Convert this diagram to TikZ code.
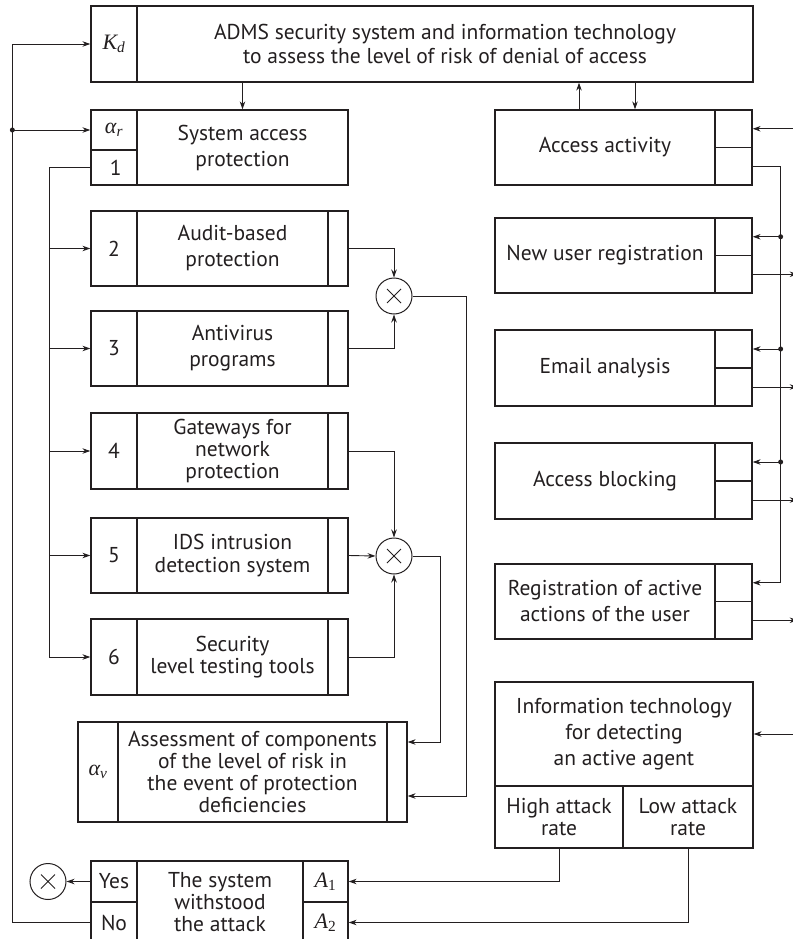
\documentclass[tikz,border=0pt]{standalone}
\usepackage{fontspec}
\setmainfont{PT Sans}
\newfontfamily\tms{Liberation Serif}
\usetikzlibrary{arrows.meta,calc}
\definecolor{ink}{HTML}{231F20}
\newcommand\mkcell[6]{\node[cell, minimum width={#4-#2}, minimum height={#5-#3}] (#1) at ({(#2+#4)/2},{(#3+#5)/2}) {#6};}
\newcommand\symb[2]{{\tms\itshape\fontsize{22}{22}\selectfont #1\textsubscript{#2}}}
\begin{document}
\begin{tikzpicture}[x=1pt,y=-1pt,
 cell/.style={draw=ink, line width=1.3pt, inner sep=0pt, align=center, font=\fontsize{21.5}{22}\selectfont, text=ink},
 conn/.style={draw=ink, line width=0.9pt},
 arr/.style={conn, -{Stealth[length=8pt,width=5.5pt]}},
 mult/.style={circle, draw=ink, line width=1pt, minimum size=36pt, inner sep=0pt,
   path picture={\draw[ink,line width=0.9pt]
     ([shift={(-7pt,-7pt)}]path picture bounding box.center) -- ([shift={(7pt,7pt)}]path picture bounding box.center)
     ([shift={(-7pt,7pt)}]path picture bounding box.center) -- ([shift={(7pt,-7pt)}]path picture bounding box.center);}},
 dot/.style={circle, fill=ink, inner sep=0pt, minimum size=5pt}]
\useasboundingbox (0,0) rectangle (792,939);
% top box
\mkcell{kd}{91}{6}{137}{82}{\symb{K}{d}}
\mkcell{top}{137}{6}{753}{82}{ADMS security system and information technology\\[2pt]to assess the level of risk of denial of access}
% system access
\mkcell{ar}{91}{110}{137}{150}{\symb{α}{r}}
\mkcell{one}{91}{150}{137}{185}{\,1}
\mkcell{sap}{137}{110}{348}{185}{System access\\[4pt]protection}
% boxes 2-6
\mkcell{n2}{91}{211}{137}{286}{2}
\mkcell{b2}{137}{211}{328}{286}{Audit-based\\[4pt]protection}
\mkcell{r2}{328}{211}{348}{286}{}
\mkcell{n3}{91}{311}{137}{386}{3}
\mkcell{b3}{137}{311}{328}{386}{Antivirus\\[4pt]programs}
\mkcell{r3}{328}{311}{348}{386}{}
\mkcell{n4}{91}{413}{137}{489}{4}
\mkcell{b4}{137}{413}{328}{489}{Gateways for\\network\\protection}
\mkcell{r4}{328}{413}{348}{489}{}
\mkcell{n5}{91}{518}{137}{593}{5}
\mkcell{b5}{137}{518}{328}{593}{IDS intrusion\\[1pt]detection system}
\mkcell{r5}{328}{518}{348}{593}{}
\mkcell{n6}{91}{619}{137}{695}{6}
\mkcell{b6}{137}{619}{328}{695}{Security\\level testing tools}
\mkcell{r6}{328}{619}{348}{695}{}
% assessment
\mkcell{aL}{78}{722}{118}{822}{\symb{α}{ν}}
\mkcell{aM}{118}{722}{387}{822}{Assessment of components\\of the level of risk in\\the event of protection\\deficiencies}
\mkcell{aR}{387}{722}{407}{822}{}
% bottom box
\mkcell{yes}{91}{861}{137}{902}{Yes}
\mkcell{no}{91}{902}{137}{943}{No}
\mkcell{sys}{137}{861}{303}{943}{The system\\withstood\\the attack}
\mkcell{aone}{303}{861}{348}{902}{\symb{A}{\upshape 1}}
\mkcell{atwo}{303}{902}{348}{943}{\symb{A}{\upshape 2}}
% info technology
\mkcell{info}{495}{682}{753}{786}{Information technology\\[4pt]for detecting\\[4pt]an active agent}
\mkcell{high}{495}{786}{623}{848}{High attack\\rate}
\mkcell{low}{623}{786}{753}{848}{Low attack\\rate}
% right column
\mkcell{aa}{495}{110}{715}{185}{Access activity}
\mkcell{aaU}{715}{110}{752}{147.5}{}
\mkcell{aaD}{715}{147.5}{752}{185}{}
\mkcell{nur}{495}{218}{715}{293}{New user registration}
\mkcell{nurU}{715}{218}{752}{255.5}{}
\mkcell{nurD}{715}{255.5}{752}{293}{}
\mkcell{ea}{495}{330}{715}{406}{Email analysis}
\mkcell{eaU}{715}{330}{752}{368}{}
\mkcell{eaD}{715}{368}{752}{406}{}
\mkcell{ab}{495}{443}{715}{519}{Access blocking}
\mkcell{abU}{715}{443}{752}{481}{}
\mkcell{abD}{715}{481}{752}{519}{}
\mkcell{ra}{495}{564}{715}{639}{Registration of active\\[4pt]actions of the user}
\mkcell{raU}{715}{564}{752}{601.5}{}
\mkcell{raD}{715}{601.5}{752}{639}{}
% multipliers
\node[mult] (m1) at (394,296) {};
\node[mult] (m2) at (394,556) {};
\node[mult] (m3) at (48,881.5) {};
% connectors
\draw[arr] (sap.north |- top.south) -- (sap.north);
\draw[arr] ([xshift=-26pt]aa.north) -- ([xshift=-26pt]aa.north |- top.south);
\draw[arr] ([xshift=30pt]aa.north |- top.south) -- ([xshift=30pt]aa.north);
% left bus
\draw[arr] (no.west) -- ++(-78,0) coordinate (lb) |- (kd.west);
\draw[arr] (lb |- ar.west) -- (ar.west);
\node[dot] (d0) at (lb |- ar.west) {};
% second bus
\draw[arr] (one.west) -- ++(-41,0) coordinate (sb) |- (n6.west);
\foreach \k in {2,3,4,5} \draw[arr] (sb |- n\k.west) -- (n\k.west);
% to multipliers
\draw[arr] (r2.east) -| (m1.north);
\draw[arr] (r3.east) -| (m1.south);
\draw[arr] (r4.east) -| (m2.north);
\draw[arr] (r5.east) -- (m2.west);
\draw[arr] (r6.east) -| (m2.south);
\draw[arr] (m1.east) -- ++(54,0) |- ([yshift=-24pt]aR.east);
\draw[arr] (m2.east) -- ++(28,0) |- ([yshift=30pt]aR.east);
% right bus
\draw[arr] ([xshift=48pt]aaU.east) -- (aaU.east);
\draw[arr] (aaD.east) -- ++(28,0) coordinate (rb) |- (raU.east);
\foreach \k in {nur,ea,ab} {
  \draw[arr] (rb |- \k U.east) -- (\k U.east);
  \node[dot] at (rb |- \k U.east) {};
  \draw[arr] (\k D.east) -- ++(45,0);
}
\draw[arr] (raD.east) -- ++(45,0);
\draw[arr] ([xshift=47pt]info.east) -- (info.east);
\draw[arr] (high.south) |- (aone.east);
\draw[arr] (low.south) |- (atwo.east);
\draw[arr] (yes.west) -- (m3.east);
\end{tikzpicture}
\end{document}
